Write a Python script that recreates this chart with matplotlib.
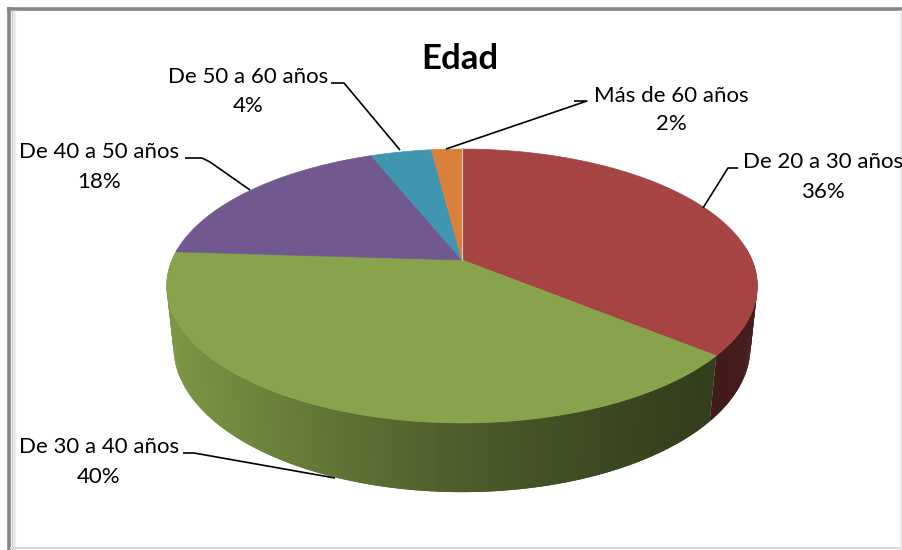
import numpy as np
import matplotlib
matplotlib.use("Agg")
import matplotlib.pyplot as plt
from matplotlib.patches import Polygon
from matplotlib.colors import to_rgb

# ---------------- data ----------------
title = "Edad"
categories = ["De 20 a 30 años", "De 30 a 40 años", "De 40 a 50 años",
              "De 50 a 60 años", "Más de 60 años"]
values = [36, 40, 18, 4, 2]
pct_labels = ["36%", "40%", "18%", "4%", "2%"]
colors = ["#A64443", "#87A34B", "#71588F", "#4096AE", "#D9813B"]

plt.rcParams['font.family'] = ['Lato', 'DejaVu Sans']

fig = plt.figure(figsize=(9.02, 5.5), dpi=100)
ax = fig.add_axes([0, 0, 1, 1])
ax.set_xlim(0, 902)
ax.set_ylim(550, 0)
ax.axis('off')

# ---------------- 3D projection ----------------
cx, cy = 462.0, 260.0
R = 290.0
phi = np.arcsin(132.0 / R)
D = 1361.0
H = 69.0


def proj(X, Y, Z):
    v = Y * np.sin(phi) + Z * np.cos(phi)
    w = Y * np.cos(phi) - Z * np.sin(phi)
    s = D / (D + w)
    return cx + X * s, cy - v * s


def edge(theta_deg, Z):
    t = np.radians(theta_deg)
    return proj(R * np.cos(t), R * np.sin(t), Z)


vals = np.array(values, dtype=float)
cum = np.concatenate([[0], np.cumsum(vals / vals.sum() * 360.0)])
starts = 90.0 - cum[:-1]
ends = 90.0 - cum[1:]


def slice_of(theta):
    a = (90.0 - theta) % 360.0
    return min(int(np.searchsorted(cum, a, side='right')) - 1, len(values) - 1)


# ---------------- side wall ----------------
shade_x = [167, 330, 460, 600, 700, 757]
shade_f = [0.92, 0.72, 0.57, 0.45, 0.38, 0.42]
step = 0.5
thetas = np.arange(-185.0, 5.0, step)
order = np.argsort(-np.abs(thetas + step / 2 + 90.0))
for i in order:
    tm = thetas[i] + step / 2
    t0, t1 = thetas[i] - step * 0.6, thetas[i] + step * 1.6
    k = slice_of(tm)
    # keep strips inside their slice so the boundary stays sharp
    lo, hi = min(starts[k], ends[k]), max(starts[k], ends[k])
    if tm - 360 >= lo - 1e-9 and tm - 360 <= hi:
        lo, hi = lo + 360, hi + 360
    elif not (lo <= tm <= hi):
        lo, hi = lo - 360, hi - 360
    t0, t1 = max(t0, lo), min(t1, hi)
    tt = np.linspace(t0, t1, 4)
    xa, ya = edge(tt, 0)
    xd, yd = edge(tt[::-1], -H)
    xm, _ = edge(tm, 0)
    f = np.interp(xm, shade_x, shade_f)
    c = tuple(np.clip(np.array(to_rgb(colors[k])) * f, 0, 1))
    pts = list(zip(xa, ya)) + list(zip(xd, yd))
    ax.add_patch(Polygon(pts, closed=True, facecolor=c, edgecolor='none', lw=0))

# ---------------- top face ----------------
apex = proj(0, 0, 0)
for k in range(len(values)):
    ts = np.linspace(starts[k], ends[k], max(int(abs(starts[k] - ends[k]) * 2), 4))
    xs, ys = edge(ts, 0)
    pts = [apex] + list(zip(xs, ys))
    ax.add_patch(Polygon(pts, closed=True, facecolor=colors[k],
                         edgecolor=colors[k], lw=0.5))
# thin light seam at 12 o'clock
xt, yt = edge(90.0, 0)
ax.plot([apex[0], xt], [apex[1], yt], color="#d8c8c0", lw=0.8)

# ---------------- labels ----------------
fs = 16
label_layout = {
    0: dict(cx=823, y1=168, y2=198, line=[(703, 208), (728, 168), (738, 168)]),
    1: dict(cx=99, y1=453, y2=483, line=[(335, 478), (194, 453), (183, 453)]),
    2: dict(cx=99, y1=158, y2=188, line=[(250, 190), (210, 162), (202, 158), (185, 158)]),
    3: dict(cx=248, y1=83, y2=112, line=[(400, 150), (344, 83), (331, 83)]),
    4: dict(cx=671, y1=102, y2=130, line=[(446, 149), (587, 101), (574, 101)]),
}
for k, lay in label_layout.items():
    ax.text(lay['cx'], lay['y1'], categories[k], fontsize=fs, ha='center',
            va='baseline', color='black')
    ax.text(lay['cx'], lay['y2'], pct_labels[k], fontsize=fs, ha='center',
            va='baseline', color='black')
    lx, ly = zip(*lay['line'])
    ax.plot(lx, ly, color='black', lw=1.2, solid_capstyle='butt')

ax.text(460, 69, title, fontsize=25, fontweight='bold', ha='center',
        va='baseline', color='black')

# ---------------- frame ----------------
ax.plot([7, 902], [9, 9], color='#858585', lw=2.6, solid_capstyle='butt')
ax.plot([9, 9], [7, 550], color='#858585', lw=2.6, solid_capstyle='butt')
for xx, cc in [(12, '#c8c8c8'), (13.5, '#e0e0e0'), (15, '#f0f0f0')]:
    ax.plot([xx, xx], [11, 550], color=cc, lw=1.0)
ax.plot([11, 902], [547.5, 547.5], color='#d9d9d9', lw=1.5)
ax.plot([900.5, 900.5], [11, 550], color='#e6e6e6', lw=1.2)

fig.savefig("out.png", dpi=100)
